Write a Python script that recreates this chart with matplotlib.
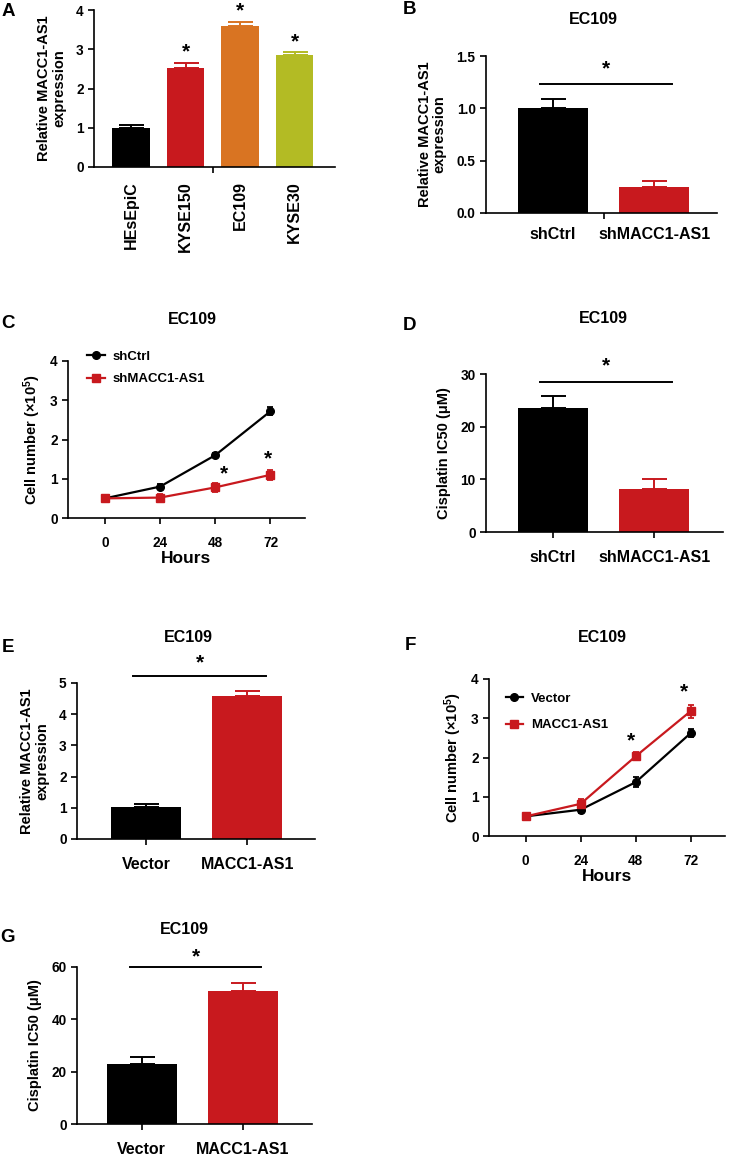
import numpy as np
import matplotlib
matplotlib.use("Agg")
import matplotlib.pyplot as plt

plt.rcParams['font.family'] = ['Liberation Sans', 'DejaVu Sans']
plt.rcParams['font.weight'] = 'bold'
plt.rcParams['axes.labelweight'] = 'bold'
plt.rcParams['mathtext.fontset'] = 'custom'
plt.rcParams['mathtext.rm'] = 'Liberation Sans:bold'
plt.rcParams['mathtext.it'] = 'Liberation Sans:bold'
plt.rcParams['mathtext.bf'] = 'Liberation Sans:bold'
plt.rcParams['mathtext.default'] = 'rm'

# ---- data ----
cell_lines = ["HEsEpiC", "KYSE150", "EC109", "KYSE30"]
a_mean = [1.0, 2.52, 3.6, 2.85]
a_err = [0.07, 0.13, 0.1, 0.07]

sh_groups = ["shCtrl", "shMACC1-AS1"]
b_mean = [1.0, 0.25]
b_err = [0.085, 0.06]

hours = [0, 24, 48, 72]
c_ctrl = [0.5, 0.8, 1.6, 2.72]
c_ctrl_err = [0.04, 0.07, 0.05, 0.1]
c_sh = [0.5, 0.52, 0.78, 1.1]
c_sh_err = [0.04, 0.08, 0.12, 0.13]

d_mean = [23.5, 8.2]
d_err = [2.4, 1.8]

ov_groups = ["Vector", "MACC1-AS1"]
e_mean = [1.03, 4.57]
e_err = [0.08, 0.18]

f_vec = [0.5, 0.67, 1.37, 2.62]
f_vec_err = [0.03, 0.08, 0.13, 0.1]
f_ov = [0.5, 0.82, 2.03, 3.18]
f_ov_err = [0.03, 0.12, 0.1, 0.17]

g_mean = [23, 51]
g_err = [2.5, 2.8]

BLACK = '#000000'
RED = '#c8191e'
ORANGE = '#d97422'
OLIVE = '#b3bb24'

W, H = 729, 1157
fig = plt.figure(figsize=(W / 100, H / 100), dpi=100)


def ax_at(l, t, r, b):
    # pixel box -> figure fraction
    return fig.add_axes([l / W, 1 - b / H, (r - l) / W, (b - t) / H])


def fig_text(x, y, s, size, **kw):
    fig.text(x / W, 1 - y / H, s, fontsize=size, fontweight='bold',
             ha='center', va='center', **kw)


def style(ax):
    for s in ['top', 'right']:
        ax.spines[s].set_visible(False)
    for s in ['left', 'bottom']:
        ax.spines[s].set_linewidth(1.2)
    ax.tick_params(direction='out', length=4, width=1.2, labelsize=9.8)


def bar_panel(ax, names, means, errs, colors, ymax, yticks, ylabel, xlim,
              rot=0, tick_pos=None):
    style(ax)
    x = np.arange(len(names))
    ax.bar(x, means, width=0.69, color=colors, zorder=2)
    for xi, m, e, c in zip(x, means, errs, colors):
        ax.errorbar(xi, m, yerr=[[0], [e]], color=c, capsize=9,
                    elinewidth=1.4, capthick=1.4, zorder=1)
    ax.set_ylim(0, ymax)
    ax.set_yticks(yticks)
    ax.set_xlim(*xlim)
    ax.set_xticks(x)
    ax.set_xticklabels(names, fontsize=11.5, rotation=rot)
    ax.set_ylabel(ylabel, fontsize=10.5, linespacing=1.1, labelpad=7)
    if tick_pos is not None:
        ax.tick_params(axis='x', which='major', length=0, pad=10)
        ax.set_xticks(tick_pos, minor=True)
        ax.tick_params(axis='x', which='minor', length=4, width=1.2)
    else:
        ax.tick_params(axis='x', pad=9)


def sig(ax, x0, x1, y, ystar):
    ax.plot([x0, x1], [y, y], color='k', lw=1.4, clip_on=False)
    ax.text((x0 + x1) / 2, ystar, '*', fontsize=15, ha='center', va='center',
            clip_on=False)


def line_panel(ax, s1, e1, s2, e2, labels, anchor, spacing, stars):
    style(ax)
    ax.errorbar(hours, s1, yerr=e1, fmt='none', ecolor=BLACK, capsize=2.5,
                elinewidth=1.3, capthick=1.3, clip_on=False)
    ax.errorbar(hours, s2, yerr=e2, fmt='none', ecolor=RED, capsize=2.5,
                elinewidth=1.3, capthick=1.3, clip_on=False)
    ax.plot(hours, s1, color=BLACK, marker='o', ms=5.5, lw=1.6,
            label=labels[0], clip_on=False)
    ax.plot(hours, s2, color=RED, marker='s', ms=6, lw=1.6,
            label=labels[1], clip_on=False)
    ax.set_xlim(-16, 87)
    ax.set_xticks(hours)
    ax.set_ylim(0, 4)
    ax.set_yticks([0, 1, 2, 3, 4])
    ax.set_xlabel('Hours', fontsize=12.5, labelpad=1)
    ax.set_ylabel('Cell number (×10$^{5}$)', fontsize=10.5, labelpad=5)
    ax.tick_params(axis='x', pad=9)
    ax.legend(loc='upper left', bbox_to_anchor=anchor, frameon=False,
              fontsize=9.5, handlelength=1.35, handletextpad=0.6,
              borderpad=0, borderaxespad=0, labelspacing=spacing)
    for xs, ys in stars:
        ax.text(xs, ys, '*', fontsize=15, ha='center', va='center')


ylab_rel = 'Relative MACC1-AS1\nexpression'
ylab_ic = 'Cisplatin IC50 (μM)'

# A
axA = ax_at(94, 10, 335, 167)
bar_panel(axA, cell_lines, a_mean, a_err, [BLACK, RED, ORANGE, OLIVE], 4,
          [0, 1, 2, 3, 4], ylab_rel, (-0.68, 3.74), rot=90, tick_pos=[1.5])
for i in range(1, 4):
    axA.text(i, a_mean[i] + a_err[i] + 0.27, '*', fontsize=15, ha='center',
             va='center', clip_on=False)

# B
axB = ax_at(486, 56, 717, 213)
bar_panel(axB, sh_groups, b_mean, b_err, [BLACK, RED], 1.5,
          [0.0, 0.5, 1.0, 1.5], ylab_rel, (-0.66, 1.62), tick_pos=[0.5])
axB.set_yticklabels(['0.0', '0.5', '1.0', '1.5'])
sig(axB, -0.13, 1.18, 1.23, 1.38)

# C
axC = ax_at(68, 361, 305, 518)
line_panel(axC, c_ctrl, c_ctrl_err, c_sh, c_sh_err, sh_groups, (0.08, 1.065),
           0.75, [(52, 1.12), (71, 1.5)])

# D
axD = ax_at(486, 374, 723, 532)
bar_panel(axD, sh_groups, d_mean, d_err, [BLACK, RED], 30, [0, 10, 20, 30],
          ylab_ic, (-0.66, 1.68))
sig(axD, -0.13, 1.18, 28.5, 31.5)

# E
axE = ax_at(77, 683, 315, 839)
bar_panel(axE, ov_groups, e_mean, e_err, [BLACK, RED], 5, [0, 1, 2, 3, 4, 5],
          ylab_rel, (-0.68, 1.67))
sig(axE, -0.13, 1.19, 5.22, 5.65)

# F
axF = ax_at(489, 679, 725, 836)
line_panel(axF, f_vec, f_vec_err, f_ov, f_ov_err, ov_groups, (0.07, 0.915),
           1.1, [(46, 2.42), (69, 3.66)])

# G
axG = ax_at(77, 967, 312, 1124)
bar_panel(axG, ov_groups, g_mean, g_err, [BLACK, RED], 60, [0, 20, 40, 60],
          ylab_ic, (-0.64, 1.68))
sig(axG, -0.12, 1.18, 60, 64)

# titles and panel letters
for x, y in [(593, 19), (192, 319), (603, 318), (188, 637), (602, 638), (184, 929)]:
    fig_text(x, y, 'EC109', 11.5)
for s, x, y in [('A', 8, 12), ('B', 410, 10), ('C', 8, 323), ('D', 410, 325),
                ('E', 8, 647), ('F', 410, 645), ('G', 8, 937)]:
    fig_text(x, y, s, 13.5)

fig.savefig('out.png', dpi=100)
